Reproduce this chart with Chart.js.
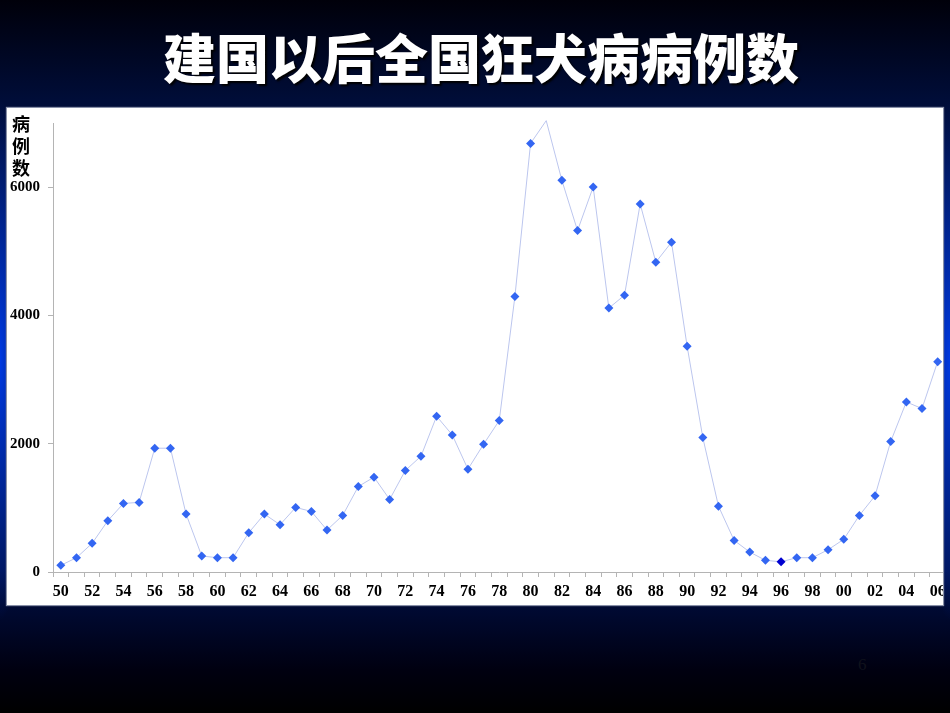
<!DOCTYPE html>
<html>
<head>
<meta charset="utf-8">
<script src="https://cdn.jsdelivr.net/npm/chart.js@4"></script>
<style>
  html, body { margin: 0; padding: 0; }
  body {
    width: 950px; height: 713px; position: relative; overflow: hidden;
    background:
      radial-gradient(ellipse 30px 260px at 0px 360px, rgba(0,60,235,0.95), rgba(0,60,235,0) 100%),
      radial-gradient(ellipse 30px 260px at 950px 360px, rgba(0,60,235,0.95), rgba(0,60,235,0) 100%),
      linear-gradient(to bottom, #00000a 0%, #000d38 14%, #001048 45%, #001048 80%, #000010 94%, #000 100%);
  }
  #title {
    position: absolute; left: 0; width: 962px; top: 20px; text-align: center;
    font-family: "Noto Sans CJK SC", sans-serif; font-weight: 900; font-size: 53px;
    color: #fff; line-height: 72px; text-shadow: 2px 2px 2px #000;
  }
  #panel {
    position: absolute; left: 7px; top: 108px; width: 936px; height: 497px;
    background: #fff; box-shadow: 0 0 1px 1px #8890a8; overflow: hidden;
  }
  #wrap { position: absolute; left: 0; top: 0; width: 943px; height: 497px; }
  #ylabel {
    position: absolute; left: 5px; top: 4px; width: 22px;
    font-family: "Noto Sans CJK SC", sans-serif; font-weight: bold; font-size: 18px;
    line-height: 22px; color: #000;
  }
  #page {
    position: absolute; left: 858px; top: 655px; font-family: "Liberation Serif", serif;
    font-size: 17px; color: #10121c;
  }
</style>
</head>
<body>
<div id="title">建国以后全国狂犬病病例数</div>
<div id="panel">
  <div id="wrap"><canvas id="chart"></canvas></div>
  <div id="ylabel">病<br>例<br>数</div>
</div>
<div id="page">6</div>
<script>
// Years 1950-2006, shown as two-digit labels
const years = ['50','51','52','53','54','55','56','57','58','59',
               '60','61','62','63','64','65','66','67','68','69',
               '70','71','72','73','74','75','76','77','78','79',
               '80','81','82','83','84','85','86','87','88','89',
               '90','91','92','93','94','95','96','97','98','99',
               '00','01','02','03','04','05','06'];

// Rabies cases per year
const cases = [104, 223, 447, 799, 1069, 1085, 1930, 1930, 903, 249,
               223, 223, 612, 903, 737, 1007, 944, 654, 882, 1333,
               1479, 1131, 1582, 1805, 2428, 2137, 1603, 1992, 2361, 4296,
               6682, 7037, 6106, 5323, 6003, 4114, 4316, 5738, 4830, 5141,
               3518, 2096, 1027, 493, 311, 182, 159, 223, 223, 347,
               509, 882, 1188, 2034, 2651, 2548, 3279];

const yTicks = [0, 2000, 4000, 6000];
const yMax = 7000;
const highlightYear = '96';

const tickFont = { family: '"Liberation Serif", serif', size: 15, weight: 'bold' };
const xFont = { family: '"Liberation Serif", serif', size: 16, weight: 'bold' };

new Chart(document.getElementById('chart'), {
  type: 'line',
  data: {
    labels: years,
    datasets: [{
      data: cases,
      borderColor: '#bcc6ee',
      borderWidth: 1,
      tension: 0,
      clip: false,
      pointStyle: 'rectRot',
      pointRadius: ctx => ctx.raw > yMax ? 0 : 4.5,
      pointHoverRadius: 4.5,
      pointBorderWidth: 0,
      pointBackgroundColor: ctx => years[ctx.dataIndex] === highlightYear ? '#0000d0' : '#3366f2',
      pointBorderColor: ctx => years[ctx.dataIndex] === highlightYear ? '#0000d0' : '#3366f2'
    }]
  },
  options: {
    responsive: true,
    maintainAspectRatio: false,
    animation: false,
    layout: { padding: { top: 15, right: 0, left: 0, bottom: 0 } },
    plugins: { legend: { display: false }, tooltip: { enabled: false } },
    scales: {
      x: {
        offset: true,
        grid: { offset: true, drawOnChartArea: false, drawTicks: true, tickLength: 5, color: '#b4b4b4' },
        border: { color: '#b4b4b4' },
        ticks: {
          autoSkip: false, maxRotation: 0, padding: 5, color: '#000', font: xFont,
          callback: (v, i) => i % 2 === 0 ? years[i] : ''
        },
        afterFit: s => { s.height = 33; s.paddingLeft = 0; s.paddingRight = 0; }
      },
      y: {
        min: 0, max: yMax,
        grid: { drawOnChartArea: false, drawTicks: true, tickLength: 5, color: '#b4b4b4' },
        border: { color: '#b4b4b4' },
        afterBuildTicks: s => { s.ticks = yTicks.map(v => ({ value: v })); },
        ticks: { padding: 8, color: '#000', font: tickFont, callback: v => String(v) },
        afterFit: s => { s.width = 46; s.paddingTop = 0; s.paddingBottom = 0; }
      }
    }
  }
});
</script>
</body>
</html>
